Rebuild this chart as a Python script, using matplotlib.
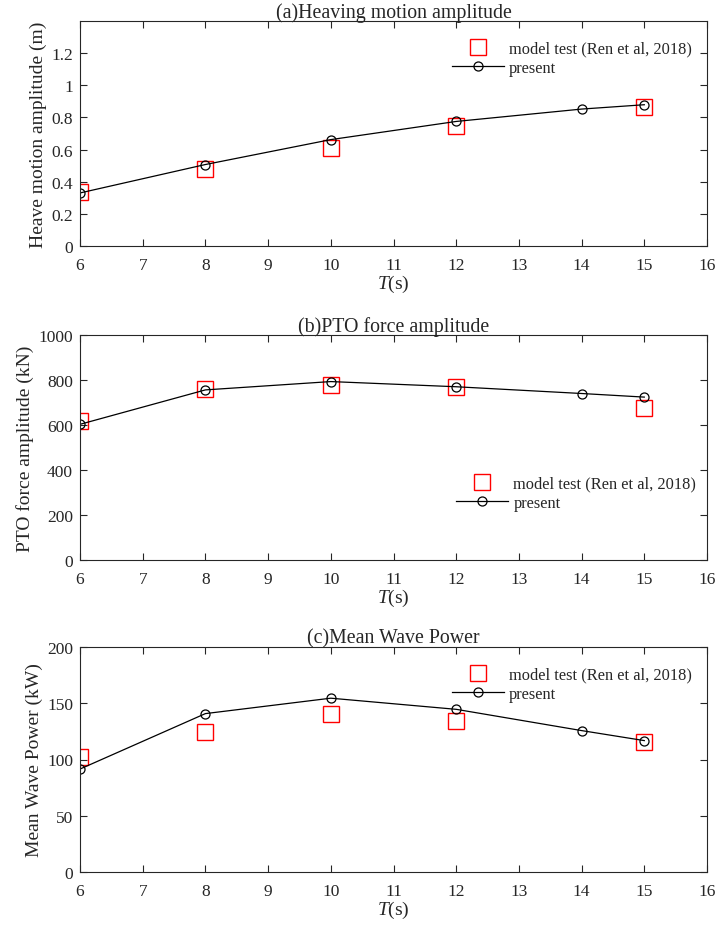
import matplotlib
matplotlib.use("Agg")
import matplotlib.pyplot as plt
from matplotlib.ticker import FuncFormatter

plt.rcParams['font.family'] = ['Liberation Serif', 'DejaVu Serif']
plt.rcParams['mathtext.fontset'] = 'custom'
plt.rcParams['mathtext.rm'] = 'Liberation Serif'
plt.rcParams['mathtext.it'] = 'Liberation Serif:italic'
TXT = '#262626'
plt.rcParams['text.color'] = TXT
plt.rcParams['axes.labelcolor'] = TXT
plt.rcParams['xtick.color'] = TXT
plt.rcParams['ytick.color'] = TXT
plt.rcParams['axes.edgecolor'] = TXT

# Data
T_present = [6, 8, 10, 12, 14, 15]
T_test = [6, 8, 10, 12, 15]

heave_present = [0.33, 0.507, 0.662, 0.775, 0.852, 0.879]
heave_test = [0.334, 0.48, 0.612, 0.745, 0.866]

pto_present = [603, 756, 793, 770, 740, 724]
pto_test = [616, 759, 777, 767, 674]

power_present = [91.5, 140.8, 154.5, 144.6, 125.7, 116.8]
power_test = [101.8, 124.6, 140.4, 134.6, 115.8]

titles = ['(a)Heaving motion amplitude', '(b)PTO force amplitude', '(c)Mean Wave Power']
ylabels = ['Heave motion amplitude (m)', 'PTO force amplitude (kN)', 'Mean Wave Power (kW)']
xticks = list(range(6, 17))
yticks_list = [[0, 0.2, 0.4, 0.6, 0.8, 1.0, 1.2],
               [0, 200, 400, 600, 800, 1000],
               [0, 50, 100, 150, 200]]
ylims = [(0, 1.4), (0, 1000), (0, 200)]
legend_labels = ['model test (Ren et al, 2018)', 'present']

W, H = 721, 929
fig = plt.figure(figsize=(W / 100, H / 100), dpi=100)

def box(l, t, r, b):
    return [l / W, 1 - b / H, (r - l) / W, (b - t) / H]

rects = [box(80, 22, 707, 247), box(80, 336, 707, 561), box(80, 648, 707, 873)]
leg_anchor = [(0.593, 0.914), (0.600, 0.376), (0.593, 0.914)]

series = [(heave_present, heave_test), (pto_present, pto_test), (power_present, power_test)]

fmt = FuncFormatter(lambda v, p: ('%g' % v))

for i, ax_rect in enumerate(rects):
    ax = fig.add_axes(ax_rect)
    pres, test = series[i]
    hs, = ax.plot(T_test, test, linestyle='none', marker='s', markersize=11,
                  markerfacecolor='none', markeredgecolor='red', markeredgewidth=1.0,
                  label=legend_labels[0])
    hp, = ax.plot(T_present, pres, color='black', linewidth=0.9, marker='o', markersize=6.5,
                  markerfacecolor='none', markeredgecolor='black', markeredgewidth=0.9,
                  label=legend_labels[1])
    ax.set_xlim(6, 16)
    ax.set_ylim(*ylims[i])
    ax.set_xticks(xticks)
    ax.set_yticks(yticks_list[i])
    ax.yaxis.set_major_formatter(fmt)
    ax.tick_params(direction='in', top=True, right=True, labelsize=12.5, length=5, width=0.8)
    ax.tick_params(axis='x', pad=8)
    ax.tick_params(axis='y', pad=5)
    for s in ax.spines.values():
        s.set_linewidth(0.8)
    ax.set_title(titles[i], fontsize=14.3, pad=3)
    ax.set_ylabel(ylabels[i], fontsize=14, labelpad=3)
    ax.set_xlabel('$T$(s)', fontsize=14, labelpad=0)
    ax.legend(handles=[hs, hp], loc='upper left', bbox_to_anchor=leg_anchor[i],
              frameon=False, fontsize=11.75, handlelength=3.2, handletextpad=0.3,
              borderpad=0, borderaxespad=0, labelspacing=0.2)

fig.savefig('out.png', dpi=100)
